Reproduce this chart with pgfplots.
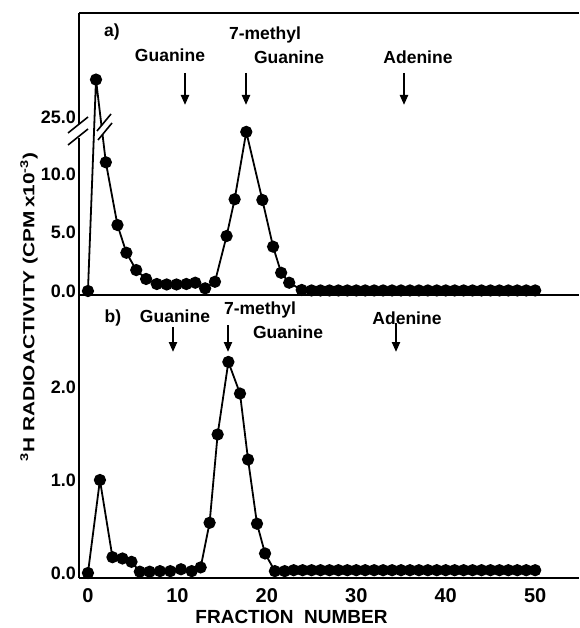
\documentclass[border=0pt]{standalone}
\usepackage{pgfplots}
\pgfplotsset{compat=1.18}
\usepackage{pgfplotstable}
\usepackage{fontspec}
\setmainfont{Liberation Sans}
\usetikzlibrary{arrows.meta}

\pgfplotstableread{
x y
0 0
0.9 28.2
2.0 11.0
3.3 5.64
4.3 3.27
5.4 1.79
6.5 1.03
7.7 0.60
8.8 0.56
9.9 0.56
11.0 0.60
12.0 0.71
13.1 0.23
14.2 0.79
15.5 4.70
16.4 7.84
17.7 13.6
19.5 7.78
20.7 3.79
21.6 1.56
22.5 0.71
23.9 0.09
25 0.05
26 0.05
27 0.05
28 0.05
29 0.05
30 0.05
31 0.05
32 0.05
33 0.05
34 0.05
35 0.05
36 0.05
37 0.05
38 0.05
39 0.05
40 0.05
41 0.05
42 0.05
43 0.05
44 0.05
45 0.05
46 0.05
47 0.05
48 0.05
49 0.05
50 0.05
}\dataA

\pgfplotstableread{
x y
0 0
1.34 1.00
2.74 0.17
3.86 0.156
4.87 0.12
5.8 0.014
6.9 0.014
8.05 0.02
9.2 0.02
10.4 0.04
11.6 0.02
12.6 0.06
13.6 0.54
14.5 1.49
15.7 2.27
17.0 1.93
17.9 1.22
18.9 0.53
19.8 0.21
20.9 0.02
22 0.02
23 0.03
24 0.03
25 0.03
26 0.03
27 0.03
28 0.03
29 0.03
30 0.03
31 0.03
32 0.03
33 0.03
34 0.03
35 0.03
36 0.03
37 0.03
38 0.03
39 0.03
40 0.03
41 0.03
42 0.03
43 0.03
44 0.03
45 0.03
46 0.03
47 0.03
48 0.03
49 0.03
50 0.03
}\dataB

\newcommand\lab{\fontsize{17.5}{20}\selectfont\bfseries}
\newcommand\ticklab{\fontsize{18}{20}\selectfont\bfseries}

\pgfplotsset{
  common/.style={
    scale only axis, width=500pt,
    xmin=-1.0, xmax=54.9,
    axis line style={line width=2.2pt},
    major tick length=0pt, minor tick length=0pt,
    yticklabel style={font=\ticklab, inner sep=0pt, anchor=east, xshift=-3pt},
    xticklabel style={font=\fontsize{20}{22}\selectfont\bfseries, inner sep=0pt, anchor=north, yshift=-10pt},
  },
  dat/.style={black, line width=1.8pt, mark=*, mark size=5.2pt, mark options={solid, fill=black}},
}

\begin{document}
\begin{tikzpicture}
\useasboundingbox (0,0) rectangle (579pt,-628pt);

% panel a
\begin{axis}[common,
  at={(79pt,-295pt)}, anchor=south west, height=282pt,
  y coord trafo/.code={\pgfmathparse{(#1>20)?(#1-10.13):(#1)}},
  ymin=-0.34, ymax=33.89,
  axis x line*=box, axis y line*=left,
  xtick=\empty,
  ytick={0,5,10,25}, yticklabels={0.0,5.0,10.0,25.0},
]
\addplot[dat] table[x=x,y=y] {\dataA};
\end{axis}

% panel b
\begin{axis}[common,
  at={(79pt,-578pt)}, anchor=south west, height=283pt,
  ymin=-0.054, ymax=2.99,
  axis x line*=bottom, axis y line*=left,
  xtick={0,10,20,30,40,50}, xticklabels={0,10,20,30,40,50},
  ytick={0,1,2}, yticklabels={0.0,1.0,2.0},
]
\addplot[dat] table[x=x,y=y] {\dataB};
\end{axis}

% axis break marks
\fill[white] (75pt,-124pt) rectangle (83pt,-138pt);
\draw[line width=1.6pt] (68pt,-133pt) -- (88pt,-117pt);
\draw[line width=1.6pt] (68pt,-145pt) -- (88pt,-129pt);
\fill[white] (97pt,-131pt) -- (111pt,-114pt) -- (112pt,-123pt) -- (98pt,-140pt) -- cycle;
\draw[line width=1.6pt] (97pt,-131pt) -- (111pt,-114pt);
\draw[line width=1.6pt] (98pt,-140pt) -- (112pt,-123pt);

% annotations panel a
\node[font=\lab] at (112pt,-32pt) {a)};
\node[font=\lab] at (170pt,-55pt) {Guanine};
\node[font=\lab] at (265pt,-35pt) {7-methyl};
\node[font=\lab] at (289pt,-57pt) {Guanine};
\node[font=\lab] at (418pt,-57pt) {Adenine};
\draw[line width=2.2pt, -{Triangle[width=8pt,length=10pt]}] (185pt,-73pt) -- (185pt,-105pt);
\draw[line width=2.2pt, -{Triangle[width=8pt,length=10pt]}] (246pt,-73pt) -- (246pt,-105pt);
\draw[line width=2.2pt, -{Triangle[width=8pt,length=10pt]}] (404pt,-73pt) -- (404pt,-105pt);

% annotations panel b
\node[font=\lab] at (113pt,-318pt) {b)};
\node[font=\lab] at (175pt,-316pt) {Guanine};
\node[font=\lab] at (260pt,-310pt) {7-methyl};
\node[font=\lab] at (288pt,-332pt) {Guanine};
\node[font=\lab] at (407pt,-318pt) {Adenine};
\draw[line width=2.2pt, -{Triangle[width=8pt,length=10pt]}] (173pt,-327pt) -- (173pt,-352pt);
\draw[line width=2.2pt, -{Triangle[width=8pt,length=10pt]}] (228pt,-325pt) -- (228pt,-352pt);
\draw[line width=2.2pt, -{Triangle[width=8pt,length=10pt]}] (396pt,-323pt) -- (396pt,-352pt);

% axis titles
\node[font=\fontsize{19}{21}\selectfont\bfseries, inner sep=0pt] at (291.5pt,-617pt) {FRACTION\ \ NUMBER};
\node[font=\fontsize{16}{18}\selectfont\bfseries, rotate=90, inner sep=0pt] at (29pt,-307pt)
  {\scalebox{1.3}[1]{\textsuperscript{3}H RADIOACTIVITY (CPM\,x10\textsuperscript{-3})}};
\end{tikzpicture}
\end{document}
